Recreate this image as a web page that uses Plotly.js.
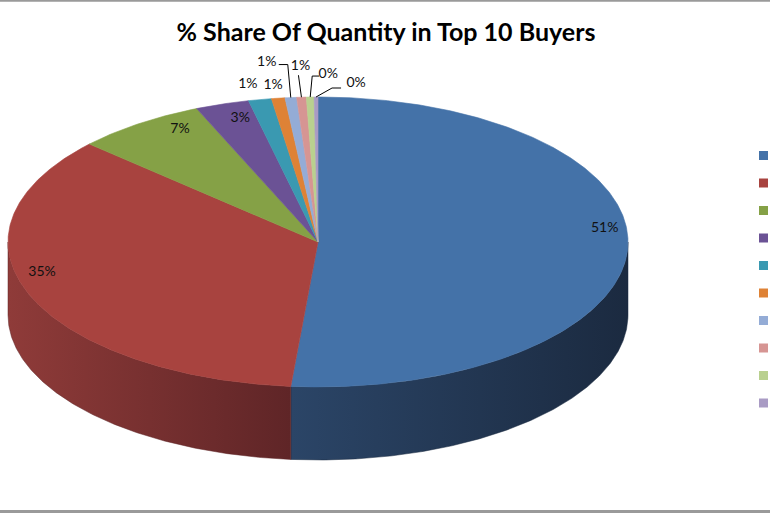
<!DOCTYPE html>
<html>
<head>
<meta charset="utf-8">
<script src="https://cdn.plot.ly/plotly-3.0.1.min.js"></script>
<style>html,body{margin:0;padding:0;background:#fff;}#chart{width:770px;height:513px;}</style>
</head>
<body>
<div id="chart"></div>
<script>
// ---- data ----
const buyers = ["Buyer 1","Buyer 2","Buyer 3","Buyer 4","Buyer 5","Buyer 6","Buyer 7","Buyer 8","Buyer 9","Buyer 10"];
const shares = [51.4, 35.4, 6.8, 2.8, 1.2, 0.7, 0.6, 0.5, 0.4, 0.2];
const topColors = ["#4472A8","#A8433F","#85A146","#6B5295","#3A99B1","#DE8236","#94ACD6","#D69593","#B9D08F","#A99BC4"];
const sideColorsL = ["#2B4567","#8F3B39","#5A6D2F","#483764","#276778","#965826","#637390","#906463","#7D8C60","#726884"];
const sideColorsR = ["#1B2A40","#5F2527","#3A471E","#2F2442","#19434F","#623919","#414B5E","#5E4141","#525B3F","#4A4456"];
// label placement offsets (px) relative to slice mid-point on rim
const labelDX = [-23, 13, 41, 18, -12, -5, -24, -1, 18, 40];
const labelDY = [-20, -22, 6, 14, -15, -13, -35, -31, -23, -14];
// leader polyline offsets (relative to rim anchor); null = no leader
const leaders = [null, null, null, null, null, null,
  [[-3,-33],[-12,-33]],
  [[-3,-22]],
  [[2,-21],[9,-21]],
  [[16,-9],[25,-9]]];

// ---- geometry (style) ----
const cx = 318, cy = 242, rx = 310, ry = 145, depth = 73;
const rad = d => d * Math.PI / 180;
const pt = (deg, dy) => [cx + rx * Math.sin(rad(deg)), cy - ry * Math.cos(rad(deg)) + (dy || 0)];
function arc(a, b, dy) {
  const n = Math.max(2, Math.ceil(Math.abs(b - a) / 0.5));
  const out = [];
  for (let i = 0; i <= n; i++) out.push(pt(a + (b - a) * i / n, dy));
  return out;
}

const total = shares.reduce((s, v) => s + v, 0);
const bounds = [0];
shares.forEach(v => bounds.push(bounds[bounds.length - 1] + v / total * 360));

const traces = [];
// side walls (front half only: 90..270 deg)
shares.forEach((v, i) => {
  const s = Math.max(bounds[i], 90), e = Math.min(bounds[i + 1], 270);
  if (e <= s) return;
  const top = arc(s, e, 0), bot = arc(e, s, depth);
  const pts = top.concat(bot);
  pts.push(top[0]);
  traces.push({
    type: "scatter", mode: "lines", x: pts.map(p => p[0]), y: pts.map(p => p[1]),
    fill: "toself", line: {width: 0.5, color: sideColorsR[i]},
    fillgradient: {type: "horizontal", colorscale: [[0, sideColorsL[i]], [1, sideColorsR[i]]]},
    hoverinfo: "skip", showlegend: false
  });
});
// top faces
shares.forEach((v, i) => {
  const pts = [[cx, cy]].concat(arc(bounds[i], bounds[i + 1], 0));
  pts.push([cx, cy]);
  traces.push({
    type: "scatter", mode: "lines", x: pts.map(p => p[0]), y: pts.map(p => p[1]),
    fill: "toself", fillcolor: topColors[i], line: {width: 0.6, color: topColors[i]},
    name: buyers[i], hoverinfo: "skip", showlegend: false
  });
});
// leader lines
shares.forEach((v, i) => {
  if (!leaders[i]) return;
  const a = pt((bounds[i] + bounds[i + 1]) / 2, 0);
  const pts = [a].concat(leaders[i].map(o => [a[0] + o[0], a[1] + o[1]]));
  traces.push({
    type: "scatter", mode: "lines", x: pts.map(p => p[0]), y: pts.map(p => p[1]),
    line: {width: 1, color: "#000"}, hoverinfo: "skip", showlegend: false
  });
});
// labels
const lx = [], ly = [], lt = [];
shares.forEach((v, i) => {
  const a = pt((bounds[i] + bounds[i + 1]) / 2, 0);
  lx.push(a[0] + labelDX[i]); ly.push(a[1] + labelDY[i]);
  lt.push(Math.round(v / total * 100) + "%");
});
traces.push({
  type: "scatter", mode: "text", x: lx, y: ly, text: lt, textposition: "middle center",
  textfont: {family: "Lato, 'Open Sans', sans-serif", size: 14, color: "#111"},
  hoverinfo: "skip", showlegend: false
});
// legend keys (labels fall outside the frame)
traces.push({
  type: "scatter", mode: "markers",
  x: buyers.map(() => 763.5), y: buyers.map((b, i) => 155.5 + i * 27.5),
  marker: {symbol: "square", size: 9, color: topColors, line: {width: 0}},
  hoverinfo: "skip", showlegend: false
});

const layout = {
  width: 770, height: 513,
  margin: {l: 0, r: 0, t: 0, b: 0},
  paper_bgcolor: "#ffffff", plot_bgcolor: "#ffffff",
  title: {
    text: "% Share Of Quantity in Top 10 Buyers",
    x: 386 / 770, xanchor: "center", xref: "paper",
    y: 1 - 32 / 513, yanchor: "middle", yref: "container",
    font: {family: "Lato, 'Open Sans', sans-serif", size: 25, color: "#000", weight: 700}
  },
  xaxis: {range: [0, 770], visible: false, fixedrange: true},
  yaxis: {range: [513, 0], visible: false, fixedrange: true},
  hovermode: false,
  showlegend: false,
  shapes: [
    {type: "line", xref: "paper", x0: 0, x1: 1, yref: "y", y0: 0.8, y1: 0.8, line: {color: "#9a9a9a", width: 2}},
    {type: "line", xref: "paper", x0: 0, x1: 1, yref: "y", y0: 511.5, y1: 511.5, line: {color: "#9a9a9a", width: 3}}
  ]
};
Plotly.newPlot("chart", traces, layout, {displayModeBar: false, staticPlot: true});
</script>
</body>
</html>
